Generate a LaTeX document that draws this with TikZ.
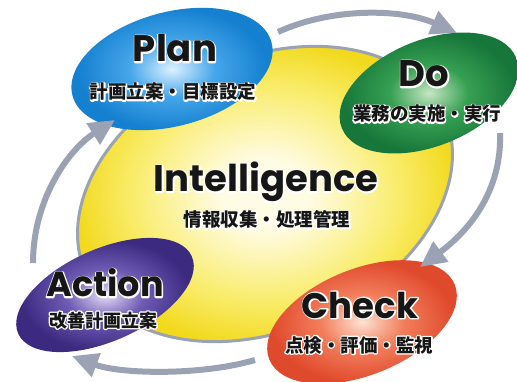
\documentclass[tikz,border=0pt]{standalone}
\usepackage{fontspec}
\newfontfamily\pop{Poppins}
\newfontfamily\cjk{Noto Sans CJK JP}
\usetikzlibrary{shapes.geometric,arrows.meta}
\definecolor{txt}{HTML}{161616}
\definecolor{arrc}{HTML}{9AA2B4}
\definecolor{yc}{HTML}{FFFCE6}\definecolor{ym}{HTML}{F9EC6A}\definecolor{ye}{HTML}{F2D91C}
\definecolor{bc}{HTML}{DDF2FF}\definecolor{bm}{HTML}{45A6EA}\definecolor{be}{HTML}{1580D0}
\definecolor{gc}{HTML}{C6E6C4}\definecolor{gm}{HTML}{36A052}\definecolor{ge}{HTML}{17773A}
\definecolor{pc}{HTML}{E4DCF6}\definecolor{pm}{HTML}{6E5CB4}\definecolor{pe}{HTML}{3B2A80}
\definecolor{rc}{HTML}{FDE2D2}\definecolor{rm}{HTML}{F27E5C}\definecolor{re}{HTML}{E04A2C}
\pgfdeclareradialshading{yglow}{\pgfpoint{0bp}{0bp}}{color(0bp)=(yc); color(5bp)=(yc); color(16bp)=(ym); color(23bp)=(ye); color(50bp)=(ye)}
\pgfdeclareradialshading{bglow}{\pgfpoint{0bp}{0bp}}{color(0bp)=(bc); color(10bp)=(bm); color(22bp)=(be); color(50bp)=(be)}
\pgfdeclareradialshading{gglow}{\pgfpoint{0bp}{0bp}}{color(0bp)=(gc); color(10bp)=(gm); color(22bp)=(ge); color(50bp)=(ge)}
\pgfdeclareradialshading{pglow}{\pgfpoint{0bp}{0bp}}{color(0bp)=(pc); color(10bp)=(pm); color(22bp)=(pe); color(50bp)=(pe)}
\pgfdeclareradialshading{rglow}{\pgfpoint{0bp}{0bp}}{color(0bp)=(rc); color(10bp)=(rm); color(22bp)=(re); color(50bp)=(re)}
\newcommand\halo[4]{%
  \node[anchor=base, font=#3, text=white, inner sep=0pt] at (#2) {\special{pdf:literal direct q 2 Tr 2.6 w 1 j 1 1 1 RG}#4\special{pdf:literal direct Q}};
  \node[anchor=base, font=#3, text=txt, inner sep=0pt] (#1) at (#2) {#4};
}
\tikzset{
  blob/.style={ellipse, inner sep=0pt},
  cyc/.style={draw=arrc, line width=6pt, -{Triangle[length=26pt,width=24pt]}},
}
\begin{document}
\begin{tikzpicture}[x=1pt,y=-1pt]
\useasboundingbox (0,0) rectangle (517,382);
% central ellipse
\node[blob, minimum width=392pt, minimum height=272pt, rotate=24, shading=yglow, draw=arrc, line width=3pt] (intel) at (265,194) {};
% corner ellipses
\node[blob, minimum width=206pt, minimum height=114pt, rotate=15, shading=bglow] (plan) at (172,69) {};
\node[blob, minimum width=188pt, minimum height=106pt, rotate=22, shading=gglow] (do) at (429,93) {};
\node[blob, minimum width=190pt, minimum height=92pt, rotate=24, shading=pglow] (action) at (105,295) {};
\node[blob, minimum width=200pt, minimum height=106pt, rotate=22, shading=rglow] (check) at (362,322) {};
% cycle arrows
\coordinate (a1s) at (278,32); \coordinate (a1e) at (457,33);
\coordinate (a2s) at (500,133); \coordinate (a2e) at (420,267);
\coordinate (a3s) at (255,360); \coordinate (a3e) at (72,356);
\coordinate (a4s) at (33,263); \coordinate (a4e) at (115,120);
\draw[cyc] (a1s) .. controls (330,8) and (400,8) .. (a1e);
\draw[cyc] (a2s) .. controls (502,190) and (470,230) .. (a2e);
\draw[cyc] (a3s) .. controls (200,376) and (120,374) .. (a3e);
\draw[cyc] (a4s) .. controls (33,200) and (68,150) .. (a4e);
% texts
\halo{planT}{175,62}{\pop\bfseries\fontsize{37}{40}\selectfont}{Plan}
\halo{planS}{173,99}{\cjk\bfseries\fontsize{18.5}{20}\selectfont}{計画立案・目標設定}
\halo{doT}{424,87}{\pop\bfseries\fontsize{37}{40}\selectfont}{Do}
\halo{doS}{427,121}{\cjk\bfseries\fontsize{18.5}{20}\selectfont}{業務の実施・実行}
\halo{intelT}{266,192}{\pop\bfseries\fontsize{37}{40}\selectfont}{Intelligence}
\halo{intelS}{267,227}{\cjk\bfseries\fontsize{18.5}{20}\selectfont}{情報収集・処理管理}
\halo{actionT}{105,297}{\pop\bfseries\fontsize{35}{40}\selectfont}{Action}
\halo{actionS}{103,327}{\cjk\bfseries\fontsize{18}{20}\selectfont}{改善計画立案}
\halo{checkT}{360,318}{\pop\bfseries\fontsize{35.5}{40}\selectfont}{Check}
\halo{checkS}{359,352}{\cjk\bfseries\fontsize{18.5}{20}\selectfont}{点検・評価・監視}
\end{tikzpicture}
\end{document}
